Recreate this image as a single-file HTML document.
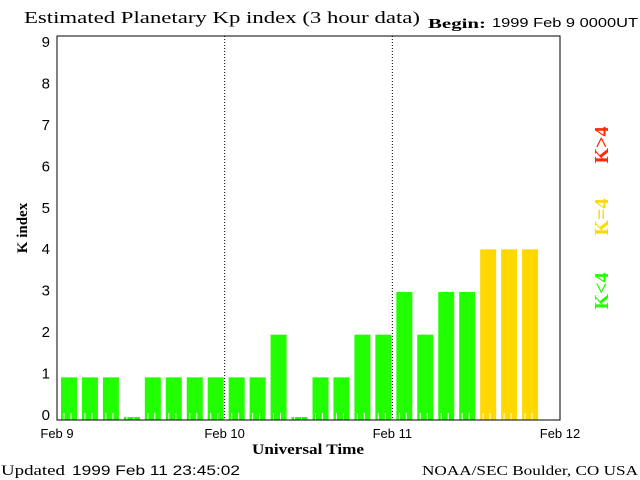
<!DOCTYPE html>
<html><head><meta charset="utf-8"><style>
body{margin:0;background:#fff;width:640px;height:480px;overflow:hidden}
svg{display:block}
.serif{font-family:"Liberation Serif",serif}
.sans{font-family:"Liberation Sans",sans-serif}
</style></head><body>
<svg id="chart" width="640" height="480" xmlns="http://www.w3.org/2000/svg">
<text x="24" y="23" class="serif" font-size="17" textLength="396" lengthAdjust="spacingAndGlyphs">Estimated Planetary Kp index (3 hour data)</text>
<text x="428" y="28" class="serif" font-size="14" font-weight="bold" textLength="58" lengthAdjust="spacingAndGlyphs">Begin:</text>
<text x="492" y="27" class="sans" font-size="13" textLength="146" lengthAdjust="spacingAndGlyphs">1999 Feb 9 0000UT</text>
<g id="plot"></g>
<text x="27" y="228" class="serif" font-size="15" font-weight="bold" transform="rotate(-90 27 228)" text-anchor="middle">K index</text>
<text x="308" y="454" class="serif" font-size="15" font-weight="bold" text-anchor="middle" textLength="112" lengthAdjust="spacingAndGlyphs">Universal Time</text>
<text x="1" y="475" class="serif" font-size="15"><tspan textLength="64" lengthAdjust="spacingAndGlyphs">Updated</tspan><tspan x="72" class="sans" font-size="14" textLength="168" lengthAdjust="spacingAndGlyphs">1999 Feb 11 23:45:02</tspan></text>
<text x="422" y="475" class="serif" font-size="14" textLength="216" lengthAdjust="spacingAndGlyphs">NOAA/SEC Boulder, CO USA</text>
<text x="608" y="145" class="serif" font-size="20" font-weight="bold" fill="#ff2a00" transform="rotate(-90 608 145)" text-anchor="middle">K&gt;4</text>
<text x="608" y="217" class="serif" font-size="20" font-weight="bold" fill="#ffd800" transform="rotate(-90 608 217)" text-anchor="middle">K=4</text>
<text x="608" y="291" class="serif" font-size="20" font-weight="bold" fill="#22ff00" transform="rotate(-90 608 291)" text-anchor="middle">K&lt;4</text>
</svg>
<script>
const kpValues = [1,1,1,0,1,1,1,1,1,1,2,0,1,1,2,2,3,2,3,3,4,4,4];
const yTicks = [0,1,2,3,4,5,6,7,8,9];
const dayLabels = ["Feb 9","Feb 10","Feb 11","Feb 12"];
const NS="http://www.w3.org/2000/svg";
const L=57,R=560,T=36,B=420,slots=24;
const xs=i=>L+(R-L)*i/slots;
const ys=v=>B-(B-T)*v/9;
const ylab=v=>414-(414-41)*v/9;
const g=document.getElementById('plot');
function mk(t,a){const e=document.createElementNS(NS,t);for(const k in a)e.setAttribute(k,a[k]);g.appendChild(e);return e;}
kpValues.forEach((v,i)=>{
  const c=v>4?'#ff2a00':(v==4?'#ffd800':'#22ff00');
  const top=v>0?ys(v):B-3;
  const r=mk('rect',{x:xs(i)+4,y:top,width:16,height:B-top,fill:c});
  
  
});
for(let h=1;h<slots*3;h++){
  if(h%3==0)continue;
  const x=L+(R-L)*h/(slots*3);
  const t=mk('line',{x1:x,x2:x,y1:B-7,y2:B,stroke:'#fff','stroke-width':1});
  
  
}
[1,2].forEach(d=>{
  const x=xs(d*8);
  const l=mk('line',{x1:x,x2:x,y1:T,y2:B,stroke:'#000','stroke-width':1,'stroke-dasharray':'1,2'});
  
  
});
const f=mk('rect',{x:L,y:T,width:R-L,height:B-T,fill:'none',stroke:'#000','stroke-width':1});


yTicks.forEach(v=>{
  const t=mk('text',{x:50,y:ylab(v)+6,'text-anchor':'end','font-size':15,'font-family':'Liberation Sans, sans-serif'});
  t.textContent=v;
  
  
});
dayLabels.forEach((s,d)=>{
  const t=mk('text',{x:xs(d*8),y:438,'text-anchor':'middle','font-size':13,'font-family':'Liberation Sans, sans-serif'});
  t.textContent=s;
  
  
});
</script>
</body></html>
